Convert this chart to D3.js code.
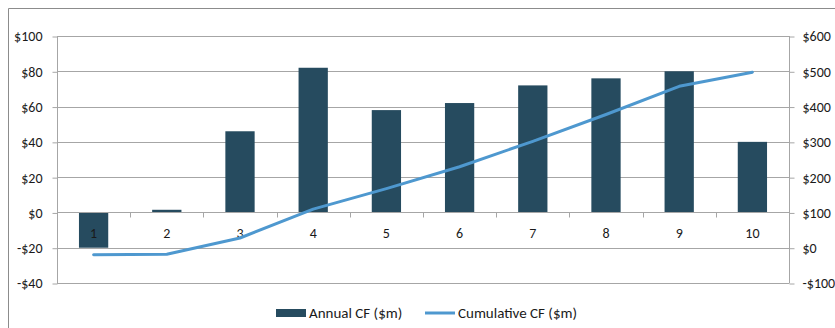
<!DOCTYPE html>
<html>
<head>
<meta charset="utf-8">
<script src="https://cdn.jsdelivr.net/npm/d3@7"></script>
<style>
  html, body { margin: 0; padding: 0; background: #ffffff; }
  svg { display: block; font-family: Calibri, Carlito, "Open Sans", sans-serif; }
</style>
</head>
<body>
<svg id="chart" width="835" height="328"></svg>
<script>
// Project cash flows by year
const years = [1, 2, 3, 4, 5, 6, 7, 8, 9, 10];
const annualCF = [-20, 1.5, 46, 82, 58, 62, 72, 76, 80, 40];
const cumulativeCF = [-20, -18.5, 27.5, 109.5, 167.5, 229.5, 301.5, 377.5, 457.5, 497.5];
const leftTicks = [-40, -20, 0, 20, 40, 60, 80, 100];
const rightTicks = [-100, 0, 100, 200, 300, 400, 500, 600];
const seriesNames = ["Annual CF ($m)", "Cumulative CF ($m)"];

const barColor = "#264b5f";
const lineColor = "#4e98cf";
const gridColor = "#a6a6a6";
const textColor = "#1a1a1a";
const axisFont = "14px";
const legendFont = "15px";

const svg = d3.select("#chart");
const plot = { left: 57, right: 789, top: 36, bottom: 283 };

const x = d3.scaleBand().domain(years).range([plot.left, plot.right]).paddingInner(0.6).paddingOuter(0.3);
const xBand = d3.scaleBand().domain(years).range([plot.left, plot.right]);
const yL = d3.scaleLinear().domain([-40, 100]).range([plot.bottom, plot.top]);
const yR = d3.scaleLinear().domain([-100, 600]).range([plot.bottom, plot.top]);

// Chart frame
svg.append("path")
  .attr("d", `M8.5,328 L8.5,8.5 L835,8.5`)
  .attr("fill", "none").attr("stroke", "#8c8c8c").attr("stroke-width", 1);

// Horizontal gridlines
svg.append("g").selectAll("line").data(leftTicks).join("line")
  .attr("x1", plot.left).attr("x2", plot.right)
  .attr("y1", d => Math.round(yL(d)) + 0.5).attr("y2", d => Math.round(yL(d)) + 0.5)
  .attr("stroke", gridColor).attr("stroke-width", 1);

// Left axis
const leftAxis = svg.append("g")
  .attr("transform", `translate(${plot.left + 0.5},0.5)`)
  .call(d3.axisLeft(yL).tickValues(leftTicks).tickSize(5).tickPadding(10)
    .tickFormat(d => (d < 0 ? "-$" : "$") + Math.abs(d)));

// Right axis
const rightAxis = svg.append("g")
  .attr("transform", `translate(${plot.right + 0.5},0.5)`)
  .call(d3.axisRight(yR).tickValues(rightTicks).tickSize(5).tickPadding(8)
    .tickFormat(d => (d < 0 ? "-$" : "$") + Math.abs(d)));

[leftAxis, rightAxis].forEach(a => {
  a.select(".domain").remove();
  a.selectAll(".tick line").attr("stroke", gridColor);
  a.selectAll("text").attr("fill", textColor).style("font-size", axisFont)
    .style("font-family", "Calibri, Carlito, 'Open Sans', sans-serif");
});
svg.append("line").attr("x1", plot.left + 0.5).attr("x2", plot.left + 0.5)
  .attr("y1", plot.top).attr("y2", plot.bottom + 0.5).attr("stroke", gridColor);
svg.append("line").attr("x1", plot.right + 0.5).attr("x2", plot.right + 0.5)
  .attr("y1", plot.top).attr("y2", plot.bottom + 0.5).attr("stroke", gridColor);

// Bars
svg.append("g").selectAll("rect").data(years).join("rect")
  .attr("x", (d) => x(d))
  .attr("width", x.bandwidth())
  .attr("y", (d, i) => yL(Math.max(0, annualCF[i])))
  .attr("height", (d, i) => Math.abs(yL(annualCF[i]) - yL(0)))
  .attr("fill", barColor);

// Category axis along the zero line
const zeroY = Math.round(yL(0)) + 0.5;
svg.append("line").attr("x1", plot.left).attr("x2", plot.right)
  .attr("y1", zeroY).attr("y2", zeroY).attr("stroke", gridColor);
svg.append("g").selectAll("line").data(years.slice(1)).join("line")
  .attr("x1", d => Math.round(xBand(d)) + 0.5).attr("x2", d => Math.round(xBand(d)) + 0.5)
  .attr("y1", zeroY).attr("y2", zeroY + 5).attr("stroke", gridColor);
svg.append("g").selectAll("text").data(years).join("text")
  .attr("x", d => xBand(d) + xBand.bandwidth() / 2)
  .attr("y", zeroY + 25)
  .attr("text-anchor", "middle")
  .attr("fill", textColor)
  .style("font-size", axisFont)
  .text(d => d);

// Cumulative line
const line = d3.line()
  .x((d, i) => xBand(years[i]) + xBand.bandwidth() / 2)
  .y(d => yR(d));
svg.append("path").datum(cumulativeCF)
  .attr("d", line)
  .attr("fill", "none")
  .attr("stroke", lineColor)
  .attr("stroke-width", 3)
  .attr("stroke-linejoin", "round")
  .attr("stroke-linecap", "round");

// Legend
const legend = svg.append("g");
legend.append("rect").attr("x", 276).attr("y", 309).attr("width", 30).attr("height", 8).attr("fill", barColor);
legend.append("text").attr("x", 309).attr("y", 318).attr("fill", textColor).style("font-size", legendFont).text(seriesNames[0]);
legend.append("line").attr("x1", 425).attr("x2", 455).attr("y1", 313).attr("y2", 313)
  .attr("stroke", lineColor).attr("stroke-width", 3);
legend.append("text").attr("x", 458).attr("y", 318).attr("fill", textColor).style("font-size", legendFont).text(seriesNames[1]);
</script>
</body>
</html>
